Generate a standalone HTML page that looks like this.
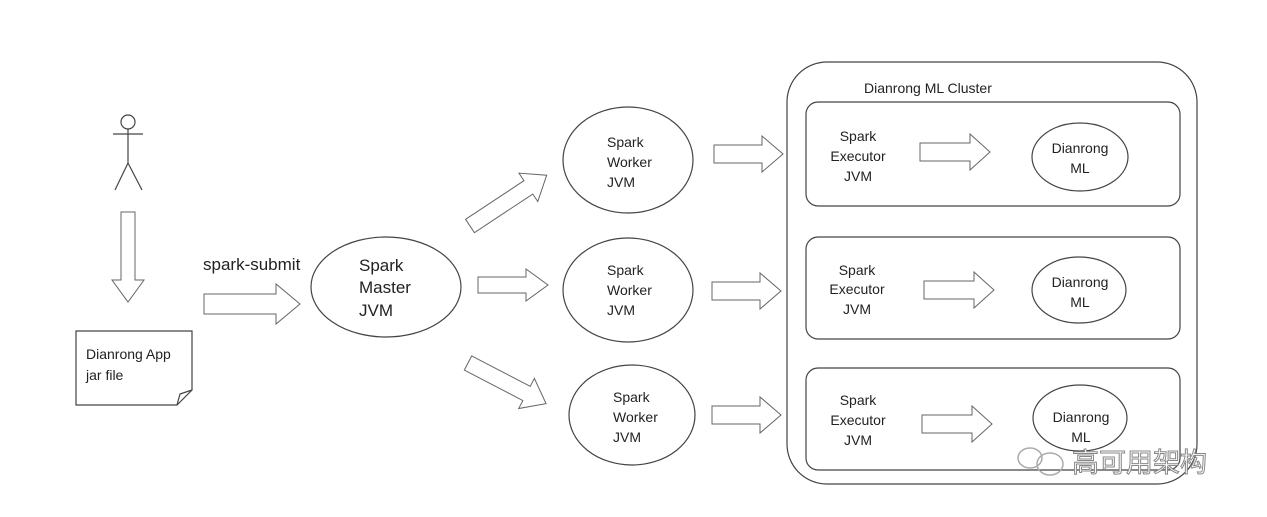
<!DOCTYPE html>
<html><head><meta charset="utf-8"><style>
html,body{margin:0;padding:0;background:#fff;}
svg{display:block;}
text{font-family:"Liberation Sans","Noto Sans CJK SC",sans-serif;fill:#222;}
.s{font-size:14px;}
.b{font-size:17px;}
</style></head><body>
<svg width="1267" height="517" viewBox="0 0 1267 517" xmlns="http://www.w3.org/2000/svg">
<rect width="1267" height="517" fill="#fff"/>
<g fill="none" stroke="#444" stroke-width="1.2">
<!-- stick figure -->
<circle cx="128" cy="122" r="7"/>
<line x1="128" y1="129" x2="128" y2="163"/>
<line x1="113" y1="134" x2="143" y2="134"/>
<line x1="128" y1="163" x2="115" y2="190"/>
<line x1="128" y1="163" x2="142" y2="190"/>
<!-- document -->
<path d="M76,331 H192 V390 L177,405 H76 Z"/>
<path d="M177,405 L180,394 L192,390"/>
<!-- ellipses -->
<ellipse cx="386" cy="287" rx="75" ry="50"/>
<ellipse cx="628" cy="160" rx="65" ry="53"/>
<ellipse cx="628" cy="290" rx="65" ry="52"/>
<ellipse cx="632" cy="415" rx="63" ry="50"/>
<ellipse cx="1080" cy="157" rx="48" ry="34"/>
<ellipse cx="1079" cy="290" rx="47" ry="33"/>
<ellipse cx="1080" cy="418" rx="47" ry="33"/>
<!-- cluster -->
<rect x="787" y="62" width="410" height="422" rx="40"/>
<rect x="806" y="102" width="374" height="104" rx="12"/>
<rect x="806" y="237" width="374" height="102" rx="12"/>
<rect x="806" y="368" width="374" height="102" rx="12"/>
</g>
<g fill="#fff" stroke="#666" stroke-width="1">
<!-- down arrow -->
<g transform="translate(128,212) rotate(90)"><path d="M0,-7 H68 V-16 L90,0 L68,16 V7 H0 Z"/></g>
<!-- spark-submit -->
<g transform="translate(204,304)"><path d="M0,-10 H72 V-20 L96,0 L72,20 V10 H0 Z"/></g>
<!-- master -> workers -->
<g transform="translate(470,226) rotate(-33.5)"><path d="M0,-8 H70 V-17 L92,0 L70,17 V8 H0 Z"/></g>
<g transform="translate(478,285)"><path d="M0,-8 H48 V-16 L70,0 L48,16 V8 H0 Z"/></g>
<g transform="translate(468,363) rotate(27.5)"><path d="M0,-8 H66 V-17 L88,0 L66,17 V8 H0 Z"/></g>
<!-- worker -> executor -->
<g transform="translate(714,154)"><path d="M0,-9 H48 V-18 L69,0 L48,18 V9 H0 Z"/></g>
<g transform="translate(712,291)"><path d="M0,-9 H48 V-18 L69,0 L48,18 V9 H0 Z"/></g>
<g transform="translate(712,415)"><path d="M0,-9 H48 V-18 L69,0 L48,18 V9 H0 Z"/></g>
<!-- executor -> ML -->
<g transform="translate(920,152)"><path d="M0,-9 H50 V-18 L70,0 L50,18 V9 H0 Z"/></g>
<g transform="translate(924,290)"><path d="M0,-9 H50 V-18 L70,0 L50,18 V9 H0 Z"/></g>
<g transform="translate(922,424)"><path d="M0,-9 H50 V-18 L70,0 L50,18 V9 H0 Z"/></g>
</g>
<text class="s" x="86" y="359">Dianrong App</text>
<text class="s" x="86" y="380">jar file</text>
<text class="b" x="203" y="270">spark-submit</text>
<text class="b" x="359" y="271">Spark</text>
<text class="b" x="359" y="293">Master</text>
<text class="b" x="359" y="316">JVM</text>
<g class="s">
<text class="s" x="607" y="147">Spark</text><text class="s" x="607" y="167">Worker</text><text class="s" x="607" y="187">JVM</text>
<text class="s" x="607" y="275">Spark</text><text class="s" x="607" y="295">Worker</text><text class="s" x="607" y="315">JVM</text>
<text class="s" x="613" y="402">Spark</text><text class="s" x="613" y="422">Worker</text><text class="s" x="613" y="442">JVM</text>
</g>
<text class="s" x="864" y="93">Dianrong ML Cluster</text>
<g text-anchor="middle">
<text class="s" x="858" y="141">Spark</text><text class="s" x="858" y="161">Executor</text><text class="s" x="858" y="181">JVM</text>
<text class="s" x="857" y="275">Spark</text><text class="s" x="857" y="294">Executor</text><text class="s" x="857" y="314">JVM</text>
<text class="s" x="858" y="405">Spark</text><text class="s" x="858" y="425">Executor</text><text class="s" x="858" y="445">JVM</text>
<text class="s" x="1080" y="153">Dianrong</text><text class="s" x="1080" y="173">ML</text>
<text class="s" x="1080" y="287">Dianrong</text><text class="s" x="1080" y="307">ML</text>
<text class="s" x="1081" y="422">Dianrong</text><text class="s" x="1081" y="442">ML</text>
</g>
<g fill="none" stroke="#aaa" stroke-width="1.5">
<ellipse cx="1030" cy="458" rx="12" ry="10"/>
<ellipse cx="1050" cy="464" rx="13" ry="11"/>
</g>
<text x="1072" y="472" style="font-size:27px;fill:#fff;stroke:#888;stroke-width:1;">高可用架构</text>
</svg>
</body></html>
